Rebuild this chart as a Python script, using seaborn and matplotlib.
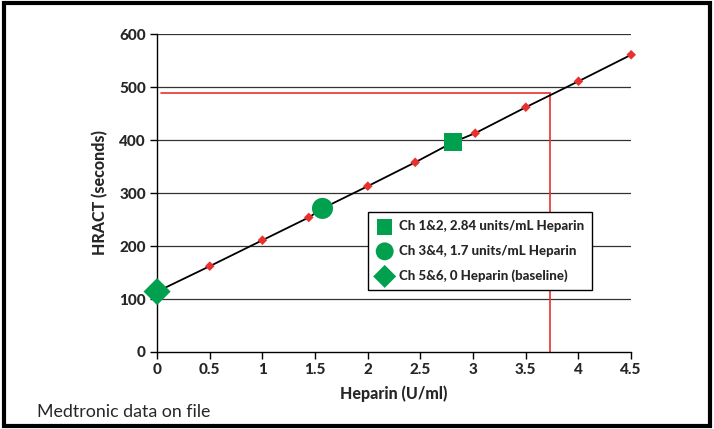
import matplotlib.pyplot as plt
import seaborn as sns
import pandas as pd
from matplotlib.patches import Rectangle

# calibration points (small red diamonds)
heparin = [0.5, 1.0, 1.44, 2.0, 2.45, 3.02, 3.5, 4.0, 4.5]
hract = [162, 211, 254, 313, 358, 413, 462, 511, 561]

# channel measurements
ch_labels = ["Ch 1&2, 2.84 units/mL Heparin", "Ch 3&4, 1.7 units/mL Heparin", "Ch 5&6, 0 Heparin (baseline)"]
ch_heparin = [2.81, 1.57, 0.0]
ch_hract = [396, 271, 114]
ch_markers = ["s", "o", "D"]

# reference read-off lines
ref_x = 3.73
ref_y = 488

xticks = [0, 0.5, 1, 1.5, 2, 2.5, 3, 3.5, 4, 4.5]
xticklabels = ["0", "0.5", "1", "1.5", "2", "2.5", "3", "3.5", "4", "4.5"]
yticks = [0, 100, 200, 300, 400, 500, 600]

green = "#00A04F"
red = "#E8312F"

sns.set_style("white")
plt.rcParams['font.family'] = ['Lato', 'DejaVu Sans']

fig = plt.figure(figsize=(7.14, 4.29), dpi=100)
ax = fig.add_axes([0.22, 0.1795, 0.664, 0.741])

line_df = pd.DataFrame({"x": heparin + ch_heparin, "y": hract + ch_hract}).sort_values("x")
sns.lineplot(data=line_df, x="x", y="y", color="black", linewidth=1.3, ax=ax, sort=True, zorder=3)

for y in yticks[1:]:
    ax.plot([0, 4.5], [y, y], color="#333333", linewidth=0.9, zorder=1)

ax.plot([0.04, ref_x], [ref_y, ref_y], color=red, linewidth=1.2, zorder=2)
ax.plot([ref_x, ref_x], [0, ref_y], color=red, linewidth=1.2, zorder=2)

sns.scatterplot(x=heparin, y=hract, marker="D", color=red, s=24, edgecolor="none", ax=ax, zorder=4, clip_on=False)

for lab, hx, hy, m in zip(ch_labels, ch_heparin, ch_hract, ch_markers):
    size = {"s": 170, "o": 230, "D": 190}[m]
    ax.scatter(hx, hy, marker=m, s=size, color=green, edgecolor="none", label=lab, zorder=5, clip_on=False)

ax.set_xlim(0, 4.5)
ax.set_ylim(0, 600)
ax.set_xticks(xticks)
ax.set_xticklabels(xticklabels, fontweight="black", fontsize=11)
ax.set_yticks(yticks)
ax.set_yticklabels([str(v) for v in yticks], fontweight="black", fontsize=11)
ax.tick_params(axis="both", direction="out", length=5, width=1, color="black",
               pad=3, bottom=True, left=True)

for s in ["top", "right"]:
    ax.spines[s].set_visible(False)
for s in ["left", "bottom"]:
    ax.spines[s].set_color("black")
    ax.spines[s].set_linewidth(1)

ax.set_xlabel("Heparin (U/ml)", fontsize=11.5, fontweight="black", labelpad=6)
ax.set_ylabel("HRACT (seconds)", fontsize=11.5, fontweight="black", labelpad=8)

leg = ax.legend(loc="upper left", bbox_to_anchor=(0.43, 0.46), frameon=True, fancybox=False,
                edgecolor="black", prop={"weight": "black", "size": 9.5},
                handletextpad=0.35, labelspacing=0.95, borderpad=0.6, handlelength=1.4,
                markerscale=0.85)
leg.get_frame().set_linewidth(1)
leg.get_frame().set_alpha(1)

fig.text(0.052, 0.028, "Medtronic data on file", fontsize=12.8)

fig.patches.append(Rectangle((0.006, 0.006), 0.988, 0.988, transform=fig.transFigure,
                             fill=False, edgecolor="black", linewidth=3))

fig.savefig("out.png", dpi=100)
